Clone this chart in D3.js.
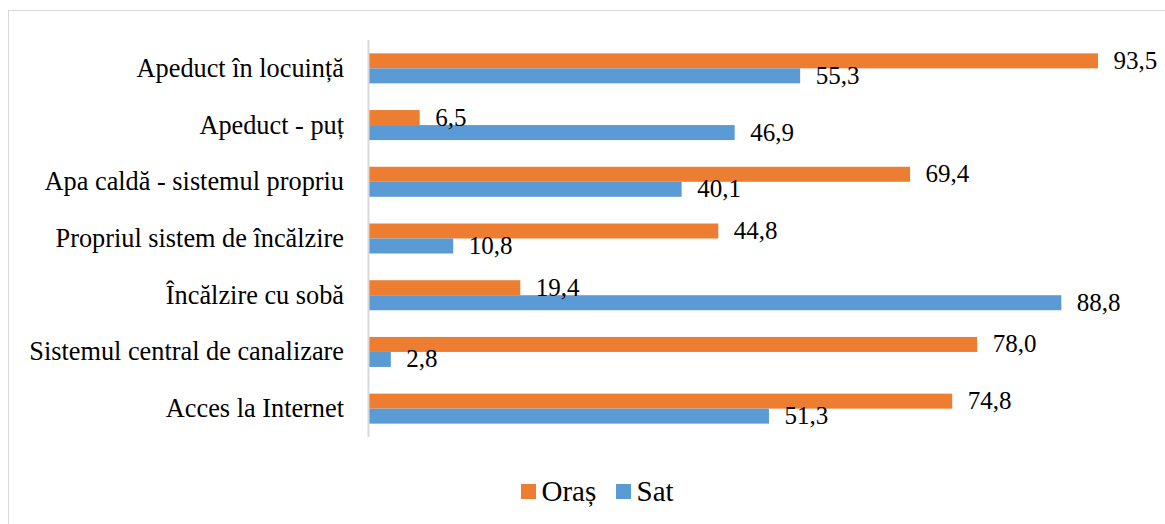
<!DOCTYPE html>
<html><head><meta charset="utf-8">
<script src="https://cdn.jsdelivr.net/npm/d3@7"></script>
<style>body{margin:0;background:#fff}svg{display:block}
text{font-family:"Liberation Serif","Times New Roman",Tinos,"DejaVu Serif",serif;}</style>
</head><body>
<script>
const categories = ["Apeduct în locuință","Apeduct - puț","Apa caldă - sistemul propriu","Propriul sistem de încălzire","Încălzire cu sobă","Sistemul central de canalizare","Acces la Internet"];
const seriesNames = ["Oraș","Sat"];
const orasValues = [93.5, 6.5, 69.4, 44.8, 19.4, 78.0, 74.8];
const satValues = [55.3, 46.9, 40.1, 10.8, 88.8, 2.8, 51.3];
const colors = ["#ED7D31","#5B9BD5"];

const W = 1165, H = 524;
const svg = d3.select("body").append("svg").attr("width", W).attr("height", H);
svg.append("rect").attr("x",8.5).attr("y",10.5).attr("width",W+10).attr("height",H+10)
  .attr("fill","#fff").attr("stroke","#d9d9d9").attr("stroke-width",1);

const x0 = 369;
const x = d3.scaleLinear().domain([0, 93.5]).range([x0, 1098]);
const y = d3.scaleBand().domain(categories).range([40, 437]);
const barH = 15;

const series = [orasValues, satValues];
const gb = svg.append("g"), gl = svg.append("g");
series.forEach((vals, si) => {
  gb.selectAll(".b"+si).data(categories).enter().append("rect")
    .attr("x", x(0))
    .attr("y", c => y(c) + y.bandwidth()/2 - barH + si*barH)
    .attr("width", (c,i) => x(vals[i]) - x(0))
    .attr("height", barH)
    .attr("fill", colors[si]);
  gl.selectAll(".l"+si).data(categories).enter().append("text")
    .attr("x", (c,i) => x(vals[i]) + 15.5)
    .attr("y", c => y(c) + y.bandwidth()/2 - barH + si*barH + barH/2 + 8)
    .attr("font-size", 25).attr("fill", "#000")
    .text((c,i) => d3.format(".1f")(vals[i]).replace(".", ","));
});

// axis line
svg.append("line").attr("x1",368.5).attr("x2",368.5).attr("y1",40).attr("y2",437)
  .attr("stroke","#d9d9d9").attr("stroke-width",2);

// category labels
svg.selectAll(".cat").data(categories).enter().append("text")
  .attr("x", 344).attr("y", c => y(c) + y.bandwidth()/2 + 8.5)
  .attr("text-anchor","end").attr("font-size", 26.3).attr("fill","#000")
  .text(c => c);

// legend
const leg = svg.append("g");
const legItems = [{n:seriesNames[0], c:colors[0], x:521},{n:seriesNames[1], c:colors[1], x:616}];
legItems.forEach(it => {
  leg.append("rect").attr("x", it.x).attr("y", 484).attr("width", 15).attr("height", 15).attr("fill", it.c);
  leg.append("text").attr("x", it.x + 20.5).attr("y", 500.5).attr("font-size", 29).attr("fill","#000").text(it.n);
});
</script>
</body></html>
